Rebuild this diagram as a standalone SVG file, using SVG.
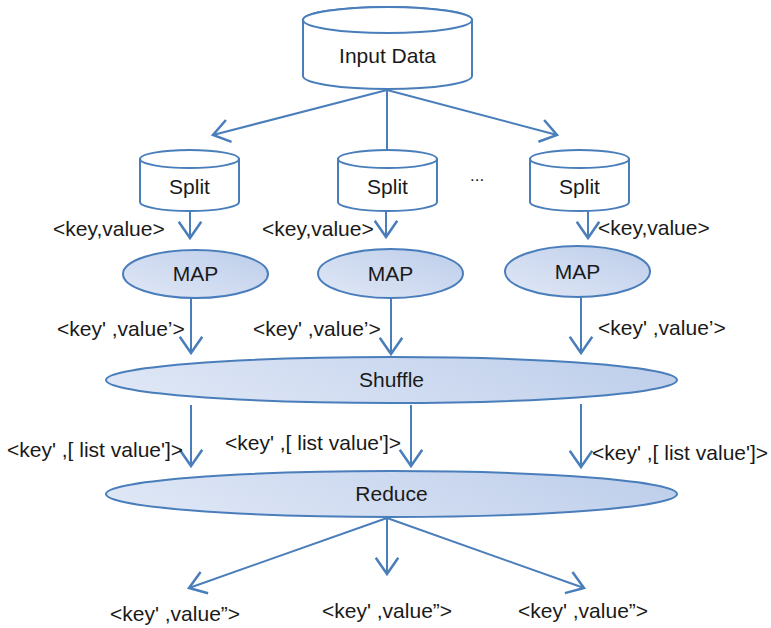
<svg xmlns="http://www.w3.org/2000/svg" width="771" height="628" viewBox="0 0 771 628">
  <defs>
    <linearGradient id="fillBlue" x1="0" y1="1" x2="1" y2="0">
      <stop offset="0" stop-color="#e1e8f6"/>
      <stop offset="1" stop-color="#bccdea"/>
    </linearGradient>
    <linearGradient id="fillBand" x1="0" y1="0.6" x2="1" y2="0.4">
      <stop offset="0" stop-color="#dfe7f6"/>
      <stop offset="1" stop-color="#bfcfeb"/>
    </linearGradient>
    <marker id="vhead" markerUnits="userSpaceOnUse" markerWidth="30" markerHeight="30" viewBox="-16 -12 20 24" refX="0" refY="0" orient="auto">
      <path d="M-13,-9 L0,0 L-13,9" fill="none" stroke="#4a7ebb" stroke-width="2"/>
    </marker>
  </defs>
  <style>
    .shape { stroke: #4a7ebb; stroke-width: 2; }
    .can { fill: #ffffff; }
    .oval { fill: url(#fillBlue); }
    .band { fill: url(#fillBand); }
    .edge { stroke: #4a7ebb; stroke-width: 2; fill: none; }
    .arrow { marker-end: url(#vhead); }
    text { font-family: "Liberation Sans", Arial, sans-serif; font-size: 21px; fill: #1a1a1a; }
    .mid { text-anchor: middle; }
  </style>

  <rect width="771" height="628" fill="#ffffff"/>

  <!-- connectors -->
  <g id="connectors">
    <line class="edge arrow" x1="387" y1="90" x2="213" y2="135"/>
    <line class="edge" x1="387" y1="90" x2="387" y2="149"/>
    <line class="edge arrow" x1="387" y1="90" x2="557" y2="135"/>

    <line class="edge arrow" x1="190" y1="211" x2="190" y2="238"/>
    <line class="edge arrow" x1="386" y1="211" x2="386" y2="237"/>
    <line class="edge arrow" x1="588" y1="211" x2="588" y2="238"/>

    <line class="edge arrow" x1="191" y1="298" x2="191" y2="353"/>
    <line class="edge arrow" x1="391" y1="298" x2="391" y2="354"/>
    <line class="edge arrow" x1="581" y1="297" x2="581" y2="353"/>

    <line class="edge arrow" x1="191" y1="405" x2="191" y2="466"/>
    <line class="edge arrow" x1="411" y1="405" x2="411" y2="466"/>
    <line class="edge arrow" x1="581" y1="404" x2="581" y2="467"/>

    <line class="edge arrow" x1="387" y1="518" x2="189" y2="588"/>
    <line class="edge arrow" x1="387" y1="518" x2="387" y2="574"/>
    <line class="edge arrow" x1="387" y1="518" x2="584" y2="588"/>
  </g>

  <!-- source store -->
  <g id="input-data">
    <path class="shape can" d="M303,20 L303,76 A84.5,13 0 0 0 472,76 L472,20 A84.5,13 0 0 0 303,20 Z"/>
    <ellipse class="shape can" cx="387.5" cy="20" rx="84.5" ry="13"/>
    <text class="mid" x="387.5" y="63">Input Data</text>
  </g>

  <!-- input splits -->
  <g id="split-1">
    <path class="shape can" d="M140,159 L140,202 A49.5,9 0 0 0 239,202 L239,159 Z"/>
    <ellipse class="shape can" cx="189.5" cy="159" rx="49.5" ry="9"/>
    <text class="mid" x="189.5" y="194">Split</text>
  </g>
  <g id="split-2">
    <path class="shape can" d="M338,159 L338,202 A49.5,9 0 0 0 437,202 L437,159 Z"/>
    <ellipse class="shape can" cx="387.5" cy="159" rx="49.5" ry="9"/>
    <text class="mid" x="387.5" y="194">Split</text>
  </g>
  <g id="split-3">
    <path class="shape can" d="M530,159 L530,202 A49.5,9 0 0 0 629,202 L629,159 Z"/>
    <ellipse class="shape can" cx="579.5" cy="159" rx="49.5" ry="9"/>
    <text class="mid" x="579.5" y="194">Split</text>
  </g>
  <g id="ellipsis">
    <text x="470" y="181" style="font-size:17px">...</text>
  </g>

  <!-- map tasks -->
  <g id="map-1">
    <ellipse class="shape oval" cx="195.5" cy="274" rx="72.5" ry="24"/>
    <text class="mid" x="195.5" y="281">MAP</text>
  </g>
  <g id="map-2">
    <ellipse class="shape oval" cx="390.5" cy="273.5" rx="72.5" ry="24.5"/>
    <text class="mid" x="390.5" y="281">MAP</text>
  </g>
  <g id="map-3">
    <ellipse class="shape oval" cx="577.5" cy="271.5" rx="72.5" ry="25.5"/>
    <text class="mid" x="577.5" y="279">MAP</text>
  </g>

  <!-- shuffle and reduce stages -->
  <g id="shuffle">
    <ellipse class="shape band" cx="391.5" cy="380" rx="285.5" ry="23"/>
    <text class="mid" x="391.5" y="387">Shuffle</text>
  </g>
  <g id="reduce">
    <ellipse class="shape band" cx="391.5" cy="494" rx="285.5" ry="23"/>
    <text class="mid" x="391.5" y="501">Reduce</text>
  </g>

  <!-- record labels -->
  <g id="labels">
    <text x="53" y="236">&lt;key,value&gt;</text>
    <text x="262" y="236">&lt;key,value&gt;</text>
    <text x="598" y="235">&lt;key,value&gt;</text>

    <text x="57" y="336">&lt;key' ,value’&gt;</text>
    <text x="253" y="336">&lt;key' ,value’&gt;</text>
    <text x="598" y="335">&lt;key' ,value’&gt;</text>

    <text x="7" y="457">&lt;key' ,[ list value']&gt;</text>
    <text x="225" y="450">&lt;key' ,[ list value']&gt;</text>
    <text x="592" y="460">&lt;key' ,[ list value']&gt;</text>

    <text x="110" y="621">&lt;key' ,value”&gt;</text>
    <text x="322" y="618">&lt;key' ,value”&gt;</text>
    <text x="518" y="618">&lt;key' ,value”&gt;</text>
  </g>
</svg>
